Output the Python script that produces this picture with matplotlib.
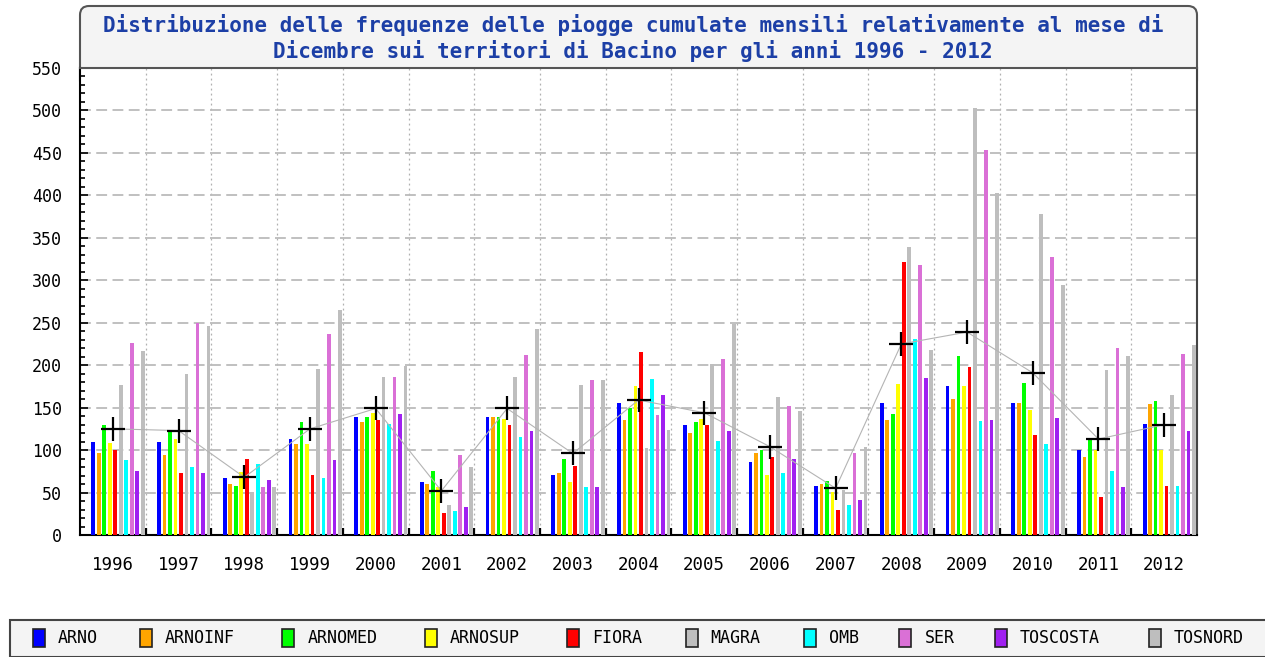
import numpy as np
import matplotlib
matplotlib.use("Agg")
import matplotlib.pyplot as plt
from matplotlib.patches import FancyBboxPatch, Rectangle

# ===================== dati =====================
anni = [str(a) for a in range(1996, 2013)]
serie = ["ARNO", "ARNOINF", "ARNOMED", "ARNOSUP", "FIORA",
         "MAGRA", "OMB", "SER", "TOSCOSTA", "TOSNORD"]
colori = ["#0000ff", "#ffa500", "#00ff00", "#ffff00", "#ff0000",
          "#bebebe", "#00ffff", "#da70d6", "#a020f0", "#bebebe"]

arno     = [109, 109, 67, 113, 139, 62, 139, 71, 156, 129, 86, 58, 156, 176, 156, 100, 131]
arnoinf  = [96, 94, 60, 107, 133, 60, 139, 73, 135, 120, 96, 60, 136, 160, 156, 92, 154]
arnomed  = [130, 123, 58, 133, 139, 75, 139, 90, 150, 133, 100, 64, 142, 211, 179, 112, 158]
arnosup  = [108, 113, 74, 107, 144, 56, 137, 62, 175, 137, 71, 51, 178, 176, 147, 100, 100]
fiora    = [100, 73, 90, 71, 136, 26, 129, 81, 216, 129, 92, 30, 321, 198, 118, 45, 58]
magra    = [177, 190, 51, 196, 186, 35, 186, 177, 103, 201, 163, 53, 339, 503, 378, 194, 165]
omb      = [88, 80, 84, 67, 131, 28, 115, 56, 184, 111, 73, 35, 231, 134, 107, 75, 58]
ser      = [226, 250, 56, 237, 186, 94, 212, 182, 141, 207, 152, 96, 318, 454, 327, 220, 213]
toscosta = [75, 73, 65, 88, 143, 33, 122, 56, 165, 122, 90, 41, 185, 136, 138, 56, 122]
tosnord  = [217, 246, 56, 265, 199, 80, 243, 182, 124, 248, 146, 104, 218, 403, 295, 211, 224]
media    = [125, 123, 68, 125, 149, 52, 149, 96, 159, 144, 104, 55, 225, 239, 191, 113, 130]

valori = [arno, arnoinf, arnomed, arnosup, fiora, magra, omb, ser, toscosta, tosnord]

titolo = ("Distribuzione delle frequenze delle piogge cumulate mensili relativamente al mese di\n"
          "Dicembre sui territori di Bacino per gli anni 1996 - 2012")

# ===================== figura =====================
W, H = 1265, 657
fig = plt.figure(figsize=(W / 100, H / 100), dpi=100)
fig.patch.set_facecolor("white")
mono = "DejaVu Sans Mono"

# area del grafico (in pixel: x 80-1197, y 68-535)
ax = fig.add_axes([80 / W, 1 - 535 / H, (1197 - 80) / W, (535 - 68) / H])
ax.set_facecolor("white")

x = np.arange(len(anni))
passo, largh, inizio = 0.0836, 0.057, -0.297
for j, (nome, col, val) in enumerate(zip(serie, colori, valori)):
    ax.bar(x + inizio + passo * j, val, width=largh, color=col, align="center", zorder=3)

# media con crocette
ax.plot(x, media, color="#b4b4b4", lw=0.8, zorder=4)
ax.plot(x, media, ls="none", marker="+", ms=17, mew=1.6, color="black", zorder=5)

ax.set_xlim(-0.5, len(anni) - 0.5)
ax.set_ylim(0, 550)

ax.set_yticks(np.arange(0, 551, 50))
ax.set_yticks(np.arange(0, 551, 10), minor=True)
ax.set_xticks(x)
ax.set_xticklabels(anni)
ax.set_xticks(x[:-1] + 0.5, minor=True)

ax.tick_params(axis="y", which="major", direction="in", length=6, width=1.2, pad=13,
               labelsize=12, labelfontfamily=mono)
ax.tick_params(axis="y", which="minor", direction="in", length=3.5, width=1.2)
ax.tick_params(axis="x", which="major", length=0, pad=15, labelsize=12.5, labelfontfamily=mono)
ax.tick_params(axis="x", which="minor", direction="in", length=5, width=1.6, color="black")

ax.grid(axis="y", which="major", color="#bbbbbb", lw=1.3, ls=(0, (6, 3)), zorder=1)
ax.grid(axis="x", which="minor", color="#b0b0b0", lw=0.9, ls=(0, (1.5, 2.5)), zorder=1)

for lato in ["left", "bottom"]:
    ax.spines[lato].set_color("black")
    ax.spines[lato].set_linewidth(1.5)
ax.spines["right"].set_color("#444444")
ax.spines["right"].set_linewidth(1.5)
ax.spines["top"].set_color("#555555")
ax.spines["top"].set_linewidth(1.5)

# riquadro del titolo (angoli arrotondati in alto)
box_titolo = FancyBboxPatch((80 / 100, (H - 90) / 100), (1197 - 80) / 100, (90 - 6) / 100,
                            boxstyle="round,pad=0,rounding_size=0.09",
                            transform=fig.dpi_scale_trans, facecolor="#f4f4f4",
                            edgecolor="#555555", lw=1.5, zorder=-1)
fig.patches.append(box_titolo)
fig.text(633 / W, 1 - 38 / H, titolo, ha="center", va="center", color="#1c3fa6",
         fontsize=15, fontweight="bold", family=mono, linespacing=1.2)

# legenda in basso
fig.patches.append(Rectangle((10 / 100, 0), (W - 10) / 100 + 0.2, (H - 620) / 100,
                             transform=fig.dpi_scale_trans, facecolor="#f4f4f4",
                             edgecolor="#444444", lw=1.5))
xm = 39
for nome, col in zip(serie, colori):
    fig.patches.append(Rectangle(((xm - 6) / 100, (H - 647) / 100), 12 / 100, 18 / 100,
                                 transform=fig.dpi_scale_trans, facecolor=col,
                                 edgecolor="#222222", lw=1.2))
    fig.text((xm + 19) / W, 1 - 638 / H, nome, ha="left", va="center",
             fontsize=12, family=mono, color="black")
    xm += 60 + 11.75 * len(nome)

fig.savefig("out.png", dpi=100)
